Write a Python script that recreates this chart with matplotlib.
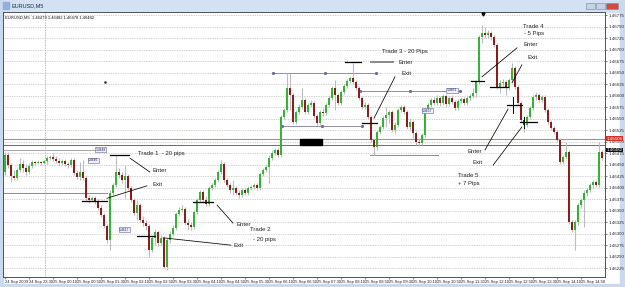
import matplotlib
matplotlib.use("Agg")
import matplotlib.pyplot as plt
import numpy as np
from matplotlib.patches import Rectangle
import matplotlib.transforms as mtransforms

plt.rcParams['font.family'] = ['Liberation Sans', 'DejaVu Sans']

# EURUSD M5, 24 Sep 22:50 .. 25 Sep 15:25, prices in points above 1.46000
BASE = 1.46
open_pts = [
    434, 471, 449, 425, 421, 438, 451, 443, 434, 447,
    456, 454, 456, 454, 458, 464, 467, 462, 458, 454,
    458, 451, 449, 460, 432, 423, 434, 421, 377, 373,
    377, 371, 356, 341, 317, 286, 388, 406, 434, 427,
    417, 425, 399, 373, 345, 362, 330, 323, 317, 264,
    291, 304, 280, 291, 227, 286, 299, 312, 343, 351,
    354, 323, 319, 314, 347, 373, 391, 373, 364, 399,
    406, 417, 434, 451, 417, 406, 395, 399, 388, 384,
    395, 388, 399, 401, 406, 399, 430, 438, 445, 464,
    475, 482, 471, 554, 569, 617, 601, 543, 564, 575,
    591, 564, 580, 584, 556, 541, 564, 562, 580, 595,
    617, 601, 584, 608, 621, 632, 638, 630, 617, 595,
    575, 580, 554, 504, 488, 521, 532, 551, 558, 564,
    525, 536, 569, 575, 564, 532, 543, 519, 499, 497,
    514, 569, 580, 591, 584, 595, 584, 599, 582, 595,
    586, 573, 588, 593, 584, 595, 599, 606, 630, 728,
    736, 732, 736, 728, 710, 619, 628, 630, 617, 634,
    660, 619, 584, 547, 536, 554, 573, 597, 601, 591,
    597, 569, 543, 530, 521, 504, 456, 467, 478, 325,
    308, 325, 362, 373, 388, 395, 406, 412, 406, 478,
]
close_pts = [
    471, 449, 425, 421, 438, 451, 443, 434, 447, 456,
    454, 456, 454, 458, 464, 467, 462, 458, 454, 458,
    451, 449, 460, 432, 423, 434, 421, 377, 373, 377,
    371, 356, 341, 317, 286, 388, 406, 434, 427, 417,
    425, 399, 373, 345, 362, 330, 323, 317, 264, 291,
    304, 280, 291, 227, 286, 299, 312, 343, 351, 354,
    323, 319, 314, 347, 373, 391, 373, 364, 399, 406,
    417, 434, 451, 417, 406, 395, 399, 388, 384, 395,
    388, 399, 401, 406, 399, 430, 438, 445, 464, 475,
    482, 471, 554, 569, 617, 601, 543, 564, 575, 591,
    564, 580, 584, 556, 541, 564, 562, 580, 595, 617,
    601, 584, 608, 621, 632, 638, 630, 617, 595, 575,
    580, 554, 504, 488, 521, 532, 551, 558, 564, 525,
    536, 569, 575, 564, 532, 543, 519, 499, 497, 514,
    569, 580, 591, 584, 595, 584, 599, 582, 595, 586,
    573, 588, 593, 584, 595, 599, 606, 630, 728, 736,
    732, 736, 728, 710, 619, 628, 630, 617, 634, 660,
    619, 584, 547, 536, 554, 573, 597, 601, 591, 597,
    569, 543, 530, 521, 504, 456, 467, 478, 325, 308,
    325, 362, 373, 388, 395, 406, 412, 406, 478, 464,
]
high_pts = [
    478, 478, 454, 438, 443, 464, 460, 451, 454, 460,
    458, 460, 458, 460, 469, 471, 475, 469, 464, 462,
    462, 456, 464, 464, 438, 456, 460, 425, 384, 382,
    382, 375, 362, 345, 321, 395, 410, 471, 443, 434,
    449, 430, 404, 377, 373, 367, 338, 330, 321, 295,
    310, 308, 297, 295, 291, 306, 319, 347, 358, 362,
    358, 332, 325, 351, 377, 395, 395, 382, 404, 410,
    421, 438, 460, 456, 421, 410, 417, 404, 395, 399,
    399, 404, 406, 410, 410, 434, 443, 449, 471, 482,
    486, 486, 558, 573, 649, 649, 606, 569, 582, 617,
    595, 584, 591, 588, 560, 569, 573, 584, 599, 621,
    634, 606, 612, 625, 636, 643, 671, 634, 621, 599,
    586, 584, 558, 508, 525, 536, 556, 575, 569, 569,
    543, 573, 580, 580, 569, 551, 547, 523, 508, 519,
    573, 584, 595, 597, 601, 599, 604, 604, 599, 601,
    591, 593, 597, 597, 599, 604, 617, 634, 732, 754,
    749, 743, 741, 732, 715, 634, 636, 634, 638, 671,
    664, 623, 588, 551, 558, 578, 601, 608, 606, 601,
    601, 573, 547, 534, 525, 508, 471, 499, 482, 330,
    330, 367, 377, 395, 399, 410, 417, 417, 499, 482,
]
low_pts = [
    427, 443, 412, 417, 417, 434, 434, 427, 430, 443,
    449, 451, 449, 451, 451, 460, 458, 454, 449, 449,
    447, 443, 445, 427, 419, 417, 417, 373, 367, 369,
    364, 351, 336, 312, 280, 264, 382, 401, 421, 410,
    377, 395, 369, 341, 330, 325, 317, 308, 249, 260,
    275, 273, 273, 225, 221, 280, 295, 308, 338, 347,
    319, 308, 308, 310, 343, 369, 367, 360, 360, 395,
    401, 412, 430, 412, 401, 388, 384, 384, 377, 380,
    384, 384, 395, 397, 395, 395, 425, 434, 410, 460,
    471, 467, 467, 549, 564, 569, 538, 538, 560, 571,
    560, 560, 575, 551, 536, 536, 556, 558, 575, 591,
    569, 580, 580, 604, 617, 628, 625, 612, 591, 571,
    571, 549, 499, 471, 482, 517, 528, 532, 541, 521,
    519, 532, 564, 560, 528, 525, 508, 493, 491, 493,
    510, 564, 575, 580, 580, 578, 580, 575, 578, 582,
    569, 569, 584, 580, 580, 591, 595, 597, 625, 715,
    725, 725, 721, 706, 614, 606, 621, 601, 612, 630,
    614, 580, 543, 521, 532, 549, 569, 591, 586, 586,
    564, 538, 525, 517, 499, 451, 451, 462, 321, 304,
    264, 319, 356, 314, 382, 391, 399, 401, 401, 460,
]

time_labels = ["24 Sep 2009", "24 Sep 23:30", "25 Sep 00:10", "25 Sep 00:50",
               "25 Sep 01:30", "25 Sep 02:10", "25 Sep 02:50", "25 Sep 03:30",
               "25 Sep 04:10", "25 Sep 04:50", "25 Sep 05:30", "25 Sep 06:10",
               "25 Sep 06:50", "25 Sep 07:30", "25 Sep 08:10", "25 Sep 08:50",
               "25 Sep 09:30", "25 Sep 10:10", "25 Sep 10:50", "25 Sep 11:30",
               "25 Sep 12:10", "25 Sep 12:50", "25 Sep 13:30", "25 Sep 14:10",
               "25 Sep 14:50"]

# trade marks: (bar from, bar to, price pts)
marks = [(35, 41.3, 471), (25.7, 34, 371), (62.7, 69.3, 369), (44, 50, 295),
         (113.3, 118.7, 673), (119, 124, 541), (155.3, 159.7, 632),
         (161.7, 167.7, 619), (167.3, 172.3, 580), (171.7, 177.3, 543)]
crosses = [(169.3, 562, 597), (173, 530, 554)]
pointers = [((41.7, 464), (48.3, 434)), ((47.3, 404), (34, 377)),
            ((70.7, 362), (76, 323)), ((52.7, 291), (75.3, 275)),
            ((130, 641), (123, 551)), ((170.7, 704), (159, 641)),
            ((172.3, 667), (169, 628)), ((160, 482), (167.7, 571)),
            ((162.7, 449), (172.3, 532))]
notes = [("Trade 1  - 20 pips", 44.3, 475), ("Enter", 49.3, 438), ("Exit", 49, 406),
         ("Enter", 77.3, 319), ("Trade 2", 81.7, 308), ("- 20 pips", 82.7, 288),
         ("Exit", 76, 275), ("Trade 3 - 20 Pips", 125.7, 695), ("Enter", 131.3, 673),
         ("Exit", 132.3, 649), ("Trade 4", 172.7, 751), ("- 5 Pips", 173, 736),
         ("Enter", 172.7, 712), ("Exit", 174, 684), ("Enter", 154, 478),
         ("Exit", 155.7, 454), ("Trade 5", 151, 427), ("+ 7 Pips", 151, 410)]
# horizontal objects: (bar from, bar to, price pts, colour)
hlines = [(-1, 201, 506, '#a08a8a'), (-1, 201, 493, '#6c6c6c'),
          (-1, 30, 482, '#a8a8a8'), (-1, 34, 388, '#8c8c8c'),
          (89.3, 123.7, 649, '#8e8eaa'), (92.3, 119, 534, '#8e8eaa'),
          (118.3, 151.7, 610, '#8e8eaa'), (121.7, 144.3, 471, '#8c8c8c')]
price_tags = [(30.2, 482, "1.4648"), (27.7, 460, "1.4646"), (38, 308, "1.4617"),
              (139, 567, "1.4657"), (147.3, 612, "1.4661")]


def px(v):
    return BASE + np.asarray(v) / 1e5


fig = plt.figure(figsize=(6.25, 2.87), dpi=100)

# window chrome
bg = fig.add_axes([0, 0, 1, 1])
bg.set_xlim(0, 625)
bg.set_ylim(287, 0)
bg.axis('off')
bg.add_patch(Rectangle((0, 0), 625, 287, color='white'))
bg.add_patch(Rectangle((0, 0), 625, 12, color='#d3e1f2'))
bg.add_patch(Rectangle((0, 0), 3, 287, color='#c9d9ee'))
bg.add_patch(Rectangle((620, 0), 5, 287, color='#c9d9ee'))
bg.add_patch(Rectangle((0, 284), 625, 3, color='#c9d9ee'))
bg.add_patch(Rectangle((3, 2), 6, 7, color='#8fb0d8'))
bg.text(12, 6, "EURUSD,M5", fontsize=4, va='center', color='#1a2a44')
for bx, bw, col in [(586, 9, '#c4d2e6'), (596, 9, '#c4d2e6'), (606, 12, '#d44a3c')]:
    bg.add_patch(Rectangle((bx, 3), bw, 6, facecolor=col, edgecolor='#7a8aa0', lw=0.4))

ax = fig.add_axes([3 / 625, 10 / 287, 602 / 625, 265 / 287])
ax.set_facecolor('white')

idx = np.arange(len(close_pts))
o, c, h, l = px(open_pts), px(close_pts), px(high_pts), px(low_pts)
up = c >= o
ax.vlines(idx, l, h, color='#bcbcbc', lw=0.8, zorder=2)
body_h = np.maximum(np.abs(c - o), 0.000012)
ax.bar(idx, body_h, bottom=np.minimum(o, c), width=0.62,
       color=np.where(up, '#34b334', '#8c1d1d'), lw=0, zorder=3)

ax.set_xlim(-0.667, 200)
ax.set_ylim(1.462058, 1.467819)

grid = np.arange(1.46225, 1.46776, 0.00025)
ax.set_yticks(grid)
ax.set_yticklabels(["%.5f" % g for g in grid])
ax.grid(axis='y', ls=(0, (1, 1.5)), color='#a4a4a4', lw=0.5)
ax.set_axisbelow(True)
ax.yaxis.tick_right()
ax.tick_params(axis='y', length=1.5, width=0.4, labelsize=3.2, pad=1, colors='#222222')
ax.set_xticks(np.arange(0, 200, 8))
ax.set_xticklabels(time_labels)
ax.tick_params(axis='x', length=1.5, width=0.4, labelsize=3.0, pad=1, colors='#222222')
for lab in ax.get_xticklabels():
    lab.set_ha('left')
for s in ax.spines.values():
    s.set_color('#505050')
    s.set_linewidth(0.7)

# day separator
ax.axvline(13.3, color='#a0a0a0', ls=(0, (1, 1)), lw=0.6, zorder=1)

for x0, x1, p, col in hlines:
    ax.plot([x0, x1], [px(p), px(p)], color=col, lw=0.7, zorder=1.5)
for x0, x1, p, col in hlines[4:7]:
    ax.plot([x0, (x0 + x1) / 2, x1], [px(p)] * 3, ls='none', marker='s', ms=1.1,
            color='#6a6a9a', zorder=1.6)
ax.add_patch(Rectangle((98.3, px(493)), 7.4, 0.00013, color='black', zorder=4))

for x, p, t in price_tags:
    ax.text(x, px(p), t, fontsize=2.4, ha='left', va='center', color='#202050',
            bbox=dict(boxstyle='square,pad=0.15', fc='#eef0fa', ec='#5a66a0', lw=0.4),
            zorder=5)

for x0, x1, p in marks:
    ax.plot([x0, x1], [px(p), px(p)], color='black', lw=0.9, zorder=6)
for x, p0, p1 in crosses:
    ax.plot([x, x], [px(p0), px(p1)], color='black', lw=0.7, zorder=6)
for (x0, p0), (x1, p1) in pointers:
    ax.plot([x0, x1], [px(p0), px(p1)], color='black', lw=0.55, zorder=6)
ax.plot([122, 129.3], [px(673), px(673)], color='#8a8a8a', lw=1.4, zorder=6)
for t, x, p in notes:
    ax.text(x, px(p), t, fontsize=4.3, ha='left', va='center', color='#222222', zorder=7)

ax.text(0.004, 0.988, "EURUSD,M5  1.46479 1.46482 1.46478 1.46482", transform=ax.transAxes,
        fontsize=3.0, va='top', ha='left', color='#111111')
ax.plot([33.3], [px(630)], marker='s', ms=0.8, color='#333333')
ax.plot([159.3], [1.46778], marker='v', ms=2.2, color='black', clip_on=False, zorder=8)

trans = mtransforms.blended_transform_factory(ax.transAxes, ax.transData)
ax.text(1.002, px(506), "1.46506", transform=trans, fontsize=3.2, color='white',
        va='center', ha='left', bbox=dict(boxstyle='square,pad=0.1', fc='#d03030', ec='none'))
ax.text(1.002, px(482), "1.46482", transform=trans, fontsize=3.2, color='white',
        va='center', ha='left', bbox=dict(boxstyle='square,pad=0.1', fc='#111111', ec='none'))

fig.savefig("out.png", dpi=100)
